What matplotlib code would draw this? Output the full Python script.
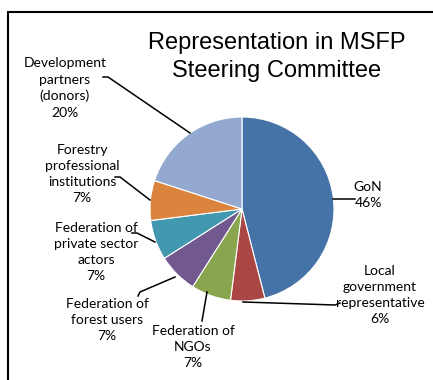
import matplotlib.pyplot as plt
from matplotlib.patches import Rectangle

# Daten
labels = ['GoN', 'Local\ngovernment\nrepresentative', 'Federation of\nNGOs',
          'Federation of\nforest users', 'Federation of\nprivate sector\nactors',
          'Forestry\nprofessional\ninstitutions', 'Development\npartners\n(donors)']
shares = [46, 6, 7, 7, 7, 7, 20]
colors = ['#4572A7', '#AA4643', '#89A54E', '#71588F', '#4198AF', '#DB843D', '#93A9CF']

# Textposition (Pixel, oben links = 0,0) und Knickpunkte der Führungslinien
text_pos = [(368, 195), (380, 295), (193, 347), (107, 320), (96, 252), (82, 174), (65, 88)]
line_pts = [
    [(333, 199), (355, 199)],
    [(243, 302), (335, 305), (340, 303)],
    [(207, 292), (202, 321)],
    [(175, 277), (140, 292), (138, 296)],
    [(155, 242), (137, 233), (132, 233)],
    [(150, 200), (120, 177), (115, 177)],
    [(190, 133), (108, 77), (103, 77)],
]

W, H = 433, 380
fig = plt.figure(figsize=(W / 100, H / 100), dpi=100)
ax = fig.add_axes([0, 0, 1, 1])

cx, cy, r = 242, H - 209, 92
ax.pie(shares, colors=colors, startangle=90, counterclock=False,
       center=(cx, cy), radius=r,
       wedgeprops=dict(edgecolor='white', linewidth=0.8))

ax.set_xlim(0, W)
ax.set_ylim(0, H)
ax.set_aspect('equal')
ax.axis('off')

font = 'Lato'
for lab, share, (tx, ty), pts in zip(labels, shares, text_pos, line_pts):
    ax.text(tx, H - ty, f'{lab}\n{share}%', ha='center', va='center',
            fontsize=10, family=font, linespacing=1.42)
    xs = [p[0] for p in pts]
    ys = [H - p[1] for p in pts]
    ax.plot(xs, ys, color='black', lw=1.1)

ax.text(277, H - 57, 'Representation in MSFP\nSteering Committee', ha='center', va='center',
        fontsize=17, family='Liberation Sans', linespacing=1.3)

# Rahmen (nur oben und links sichtbar)
ax.add_patch(Rectangle((8, -20), 600, H - 12 + 20, fill=False, edgecolor='black',
                       lw=1.5, clip_on=False))

fig.savefig('out.png', dpi=100)
